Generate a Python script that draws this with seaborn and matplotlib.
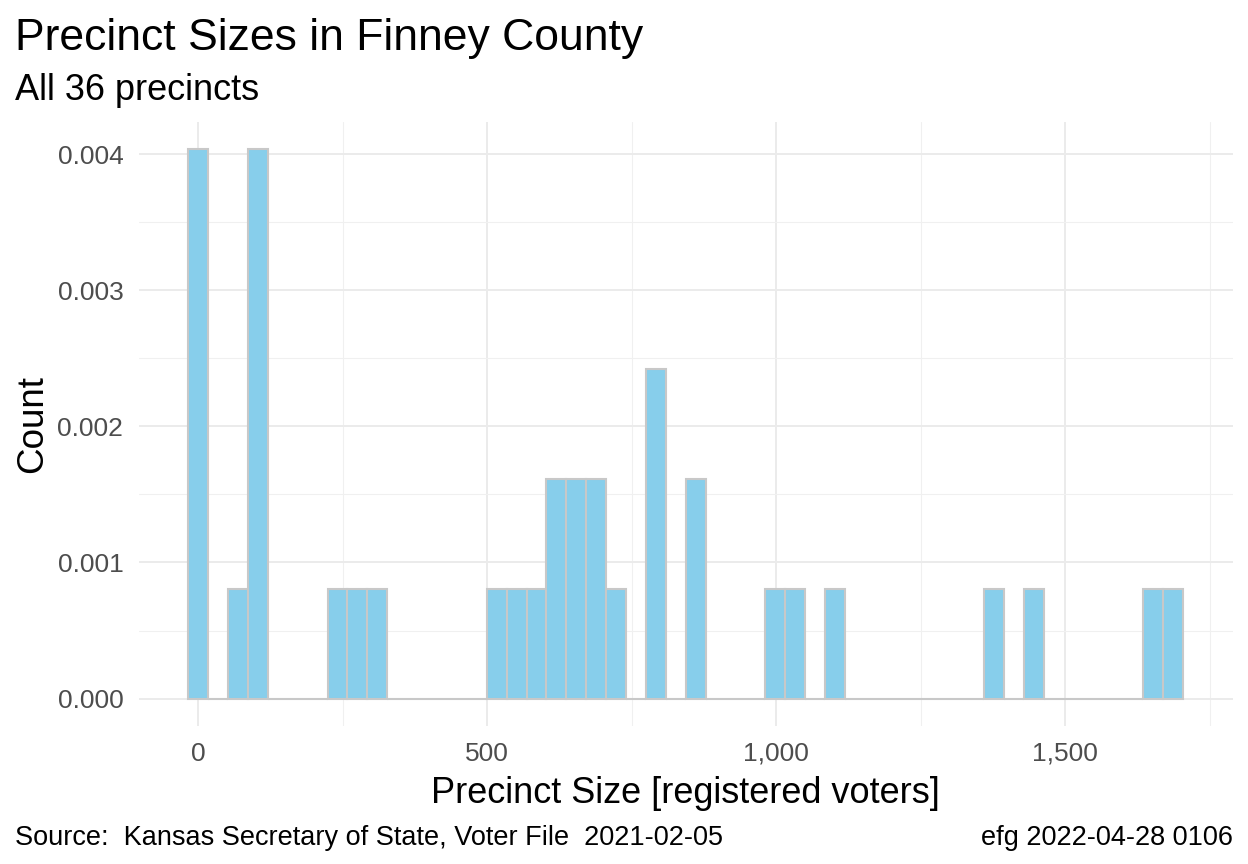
import numpy as np
import matplotlib
matplotlib.use("Agg")
import matplotlib.pyplot as plt
from matplotlib.ticker import FuncFormatter, MultipleLocator
import seaborn as sns

# Registered voters per precinct
precinct_sizes = [
    0, 0, 3, 8, 12,
    65,
    92, 98, 104, 110, 115,
    240, 275, 310,
    516, 551, 585,
    612, 628, 648, 660, 682, 695,
    723,
    785, 792, 800,
    855, 868,
    998, 1033, 1102,
    1377, 1446,
    1652, 1687,
]
n_bins = 50

title = "Precinct Sizes in Finney County"
subtitle = f"All {len(precinct_sizes)} precincts"
x_label = "Precinct Size [registered voters]"
y_label = "Count"
caption_left = "Source:  Kansas Secretary of State, Voter File  2021-02-05"
caption_right = "efg 2022-04-28 0106"

sns.set_theme(style="white")
plt.rcParams["font.family"] = ["Liberation Sans", "DejaVu Sans"]
plt.rcParams["text.color"] = "black"

fig = plt.figure(figsize=(12.48, 8.64), dpi=100)
ax = fig.add_axes([0.111, 0.1597, 0.877, 0.6991])

sizes = np.array(precinct_sizes, dtype=float)
bw = (sizes.max() - sizes.min()) / (n_bins - 1)
lo, hi = sizes.min() - bw / 2, sizes.max() + bw / 2

sns.histplot(x=sizes, stat="density", bins=n_bins, binrange=(lo, hi),
             color="#87CEEB", edgecolor="#C8C8C8", linewidth=1.5,
             alpha=1, ax=ax, zorder=3)

span = hi - lo
ax.set_xlim(lo - 0.05 * span, hi + 0.05 * span)
ymax = max(p.get_height() for p in ax.patches)
ax.set_ylim(-0.05 * ymax, ymax * 1.05)

ax.xaxis.set_major_locator(MultipleLocator(500))
ax.xaxis.set_minor_locator(MultipleLocator(250))
ax.yaxis.set_major_locator(MultipleLocator(0.001))
ax.yaxis.set_minor_locator(MultipleLocator(0.0005))
ax.xaxis.set_major_formatter(FuncFormatter(lambda v, p: f"{v:,.0f}"))
ax.yaxis.set_major_formatter(FuncFormatter(lambda v, p: f"{v:.3f}"))

ax.grid(which="major", color="#EBEBEB", linewidth=1.4, zorder=0)
ax.grid(which="minor", color="#F0F0F0", linewidth=0.8, zorder=0)
ax.set_axisbelow(True)
for s in ax.spines.values():
    s.set_visible(False)
ax.tick_params(axis="both", which="both", length=0, labelsize=19,
               labelcolor="#4D4D4D")
ax.tick_params(axis="x", pad=11.5)
ax.tick_params(axis="y", pad=11)

ax.set_xlabel(x_label, fontsize=26, color="black", labelpad=7)
ax.set_ylabel(y_label, fontsize=26.5, color="black", labelpad=5)

fig.text(0.012, 0.942, title, fontsize=32, ha="left", va="baseline")
fig.text(0.012, 0.884, subtitle, fontsize=26, ha="left", va="baseline")
fig.text(0.012, 0.022, caption_left, fontsize=19.5, ha="left", va="baseline")
fig.text(0.988, 0.022, caption_right, fontsize=19.5, ha="right", va="baseline")

fig.savefig("out.png", dpi=100, facecolor="white")
